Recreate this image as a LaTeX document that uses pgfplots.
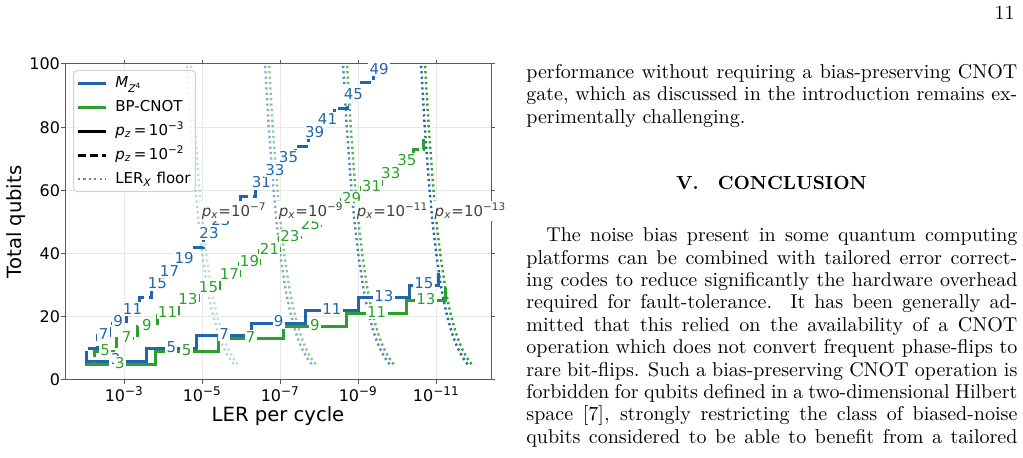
\documentclass[border=0pt]{standalone}
\usepackage{fontspec}
\usepackage{pgfplots}
\usepackage{pgfplotstable}
\pgfplotsset{compat=1.18}
\newfontfamily\dv{DejaVu Sans}
\definecolor{cblue}{HTML}{2166AC}
\definecolor{cgreen}{HTML}{2CA02C}
\definecolor{cgray}{HTML}{7F7F7F}

% staircases (LER per cycle, total qubits)
\pgfplotstableread{
x y
1e-2 6
2.78e-4 10
1.39e-5 14
5.41e-7 18
2.23e-8 22
1.0e-9 26
4.92e-11 30
8.7e-12 34
}\bsolid
\pgfplotstableread{
x y
1e-2 5
1.63e-4 9
3.95e-6 13
8.38e-8 17
1.98e-9 21
5.74e-11 25
5.86e-12 29
}\gsolid
\pgfplotstableread{
x y
1e-2 6
9.20e-3 10
5.01e-3 14
2.33e-3 18
9.05e-4 22
4.20e-4 26
1.98e-4 30
1.02e-4 34
4.73e-5 38
1.80e-5 42
9.60e-6 46
4.73e-6 50
2.33e-6 54
1.02e-6 58
4.45e-7 62
2.07e-7 66
9.05e-8 70
4.20e-8 74
1.91e-8 78
9.05e-9 82
4.20e-9 86
1.95e-9 90
9.05e-10 94
4.12e-10 98
2.07e-10 102
}\bdash
\pgfplotstableread{
x y
1e-2 5
5.88e-3 9
1.63e-3 13
4.73e-4 17
1.45e-4 21
4.20e-5 25
1.29e-5 29
3.73e-6 33
1.11e-6 37
3.41e-7 41
1.05e-7 45
3.12e-8 49
9.32e-9 53
2.70e-9 57
8.28e-10 61
2.54e-10 65
8.53e-11 69
3.84e-11 73
2.07e-11 77
}\gdash

% step labels (code distance)
\pgfplotstableread{
x y lab
1.68e-3 6 3
6.24e-5 10 5
2.75e-6 14 7
1.10e-7 18 9
4.73e-9 22 11
2.22e-10 26 13
2.09e-11 30 15
}\bsolidlab
\pgfplotstableread{
x y lab
3.41e-3 14 7
1.45e-3 18 9
6.16e-4 22 11
1.42e-4 30 15
6.93e-5 34 17
2.91e-5 38 19
6.73e-6 46 23
3.32e-6 50 25
3.04e-7 62 31
1.37e-7 66 33
6.16e-8 70 35
1.31e-8 78 39
6.16e-9 82 41
1.33e-9 90 45
2.91e-10 98 49
}\bdashlab
\pgfplotstableread{
x y lab
1.29e-3 5 3
2.54e-5 9 5
5.74e-7 13 7
1.29e-8 17 9
3.37e-10 21 11
1.85e-11 25 13
}\gsolidlab
\pgfplotstableread{
x y lab
3.09e-3 9 5
8.78e-4 13 7
2.62e-4 17 9
7.80e-5 21 11
2.33e-5 25 13
6.93e-6 29 15
2.03e-6 33 17
6.16e-7 37 19
1.89e-7 41 21
5.71e-8 45 23
1.70e-8 49 25
1.49e-9 57 29
4.59e-10 61 31
1.47e-10 65 33
5.71e-11 69 35
}\gdashlab

% LER_X floors
\pgfplotstableread{
x y
1.579e-6 5
1.823e-6 6
2.065e-6 7
2.308e-6 8
2.794e-6 10
3.280e-6 12
4.009e-6 15
5.224e-6 20
6.440e-6 25
7.653e-6 30
1.008e-5 40
1.252e-5 50
1.494e-5 60
1.980e-5 80
2.466e-5 100
2.588e-5 105
}\fbA
\pgfplotstableread{
x y
1.579e-8 5
1.823e-8 6
2.065e-8 7
2.308e-8 8
2.794e-8 10
3.280e-8 12
4.009e-8 15
5.224e-8 20
6.440e-8 25
7.653e-8 30
1.008e-7 40
1.252e-7 50
1.494e-7 60
1.980e-7 80
2.466e-7 100
2.588e-7 105
}\fbB
\pgfplotstableread{
x y
1.579e-10 5
1.823e-10 6
2.065e-10 7
2.308e-10 8
2.794e-10 10
3.280e-10 12
4.009e-10 15
5.224e-10 20
6.440e-10 25
7.653e-10 30
1.008e-9 40
1.252e-9 50
1.494e-9 60
1.980e-9 80
2.466e-9 100
2.588e-9 105
}\fbC
\pgfplotstableread{
x y
1.579e-12 5
1.823e-12 6
2.065e-12 7
2.308e-12 8
2.794e-12 10
3.280e-12 12
4.009e-12 15
5.224e-12 20
6.440e-12 25
7.653e-12 30
1.008e-11 40
1.252e-11 50
1.494e-11 60
1.980e-11 80
2.466e-11 100
2.588e-11 105
}\fbD
\pgfplotstableread{
x y
1.248e-6 5
1.441e-6 6
1.633e-6 7
1.825e-6 8
2.209e-6 10
2.594e-6 12
3.170e-6 15
4.131e-6 20
5.092e-6 25
6.051e-6 30
7.970e-6 40
9.899e-6 50
1.181e-5 60
1.566e-5 80
1.950e-5 100
2.046e-5 105
}\fgA
\pgfplotstableread{
x y
1.248e-8 5
1.441e-8 6
1.633e-8 7
1.825e-8 8
2.209e-8 10
2.594e-8 12
3.170e-8 15
4.131e-8 20
5.092e-8 25
6.051e-8 30
7.970e-8 40
9.899e-8 50
1.181e-7 60
1.566e-7 80
1.950e-7 100
2.046e-7 105
}\fgB
\pgfplotstableread{
x y
1.248e-10 5
1.441e-10 6
1.633e-10 7
1.825e-10 8
2.209e-10 10
2.594e-10 12
3.170e-10 15
4.131e-10 20
5.092e-10 25
6.051e-10 30
7.970e-10 40
9.899e-10 50
1.181e-9 60
1.566e-9 80
1.950e-9 100
2.046e-9 105
}\fgC
\pgfplotstableread{
x y
1.248e-12 5
1.441e-12 6
1.633e-12 7
1.825e-12 8
2.209e-12 10
2.594e-12 12
3.170e-12 15
4.131e-12 20
5.092e-12 25
6.051e-12 30
7.970e-12 40
9.899e-12 50
1.181e-11 60
1.566e-11 80
1.950e-11 100
2.046e-11 105
}\fgD

\pgfplotsset{
  flr/.style={line width=1.2pt, dash pattern=on 1.1pt off 1.6pt, forget plot},
  stp/.style={line width=1.5pt, const plot, forget plot},
  dsh/.style={dash pattern=on 5.5pt off 2.4pt},
  steplab/.style={forget plot, only marks, mark=none,
    nodes near coords, point meta=explicit symbolic,
    nodes near coords style={anchor=center, yshift=0.8pt, fill=white, inner sep=0.7pt,
      font=\dv\fontsize{7.5}{8}\selectfont, text=#1}},
}

\begin{document}
\begin{tikzpicture}
\useasboundingbox (0pt,0pt) rectangle (511.5pt,229pt);
\begin{axis}[
  at={(32.5pt,39pt)}, anchor=south west,
  scale only axis, width=213pt, height=158pt,
  clip mode=individual,
  xmode=log, x dir=reverse,
  xmin=3.96e-13, xmax=3.32e-2, ymin=0, ymax=100,
  xtick={1e-3,1e-5,1e-7,1e-9,1e-11},
  xticklabels={10\textsuperscript{−3},10\textsuperscript{−5},10\textsuperscript{−7},10\textsuperscript{−9},10\textsuperscript{−11}},
  ytick={0,20,40,60,80,100},
  yticklabels={0,20,40,60,80,100},
  xminorticks=false, yminorticks=false,
  grid=major, major grid style={color=black!9, line width=0.5pt},
  axis line style={color=black!65, line width=0.5pt},
  tick style={color=black!65, line width=0.5pt},
  tick align=outside, major tick length=2pt,
  ticklabel style={font=\dv\fontsize{8}{9}\selectfont, text=black},
  xticklabel style={yshift=2pt},
  yticklabel style={xshift=3pt},
  xlabel={LER per cycle}, ylabel={Total qubits},
  label style={font=\dv\fontsize{9.8}{11}\selectfont},
  xlabel style={at={(axis description cs:0.5,-0.13)}, anchor=base},
  ylabel style={at={(axis description cs:-0.114,0.5)}, anchor=center},
  legend style={at={(0.019,0.981)}, anchor=north west,
    draw=black!18, line width=0.5pt, rounded corners=2pt,
    fill=white, fill opacity=0.8, text opacity=1,
    font=\dv\fontsize{7.5}{9}\selectfont,
    inner xsep=1.5pt, inner ysep=1.5pt, row sep=2.4pt, column sep=3pt,
    nodes={inner sep=0.9pt, text height=6.2pt, text depth=1.6pt}},
  legend cell align=left,
  legend image code/.code={\draw[#1] (0pt,0pt) -- (14pt,0pt);},
]
% legend entries
\addlegendimage{cblue, line width=1.5pt}
\addlegendentry{{\itshape M}\textsubscript{{\itshape Z}\textsuperscript{4}}}
\addlegendimage{cgreen, line width=1.5pt}
\addlegendentry{BP-CNOT}
\addlegendimage{black, line width=1.5pt}
\addlegendentry{{\itshape p}\textsubscript{\itshape z}\,=\,10\textsuperscript{−3}}
\addlegendimage{black, line width=1.5pt, dash pattern=on 4pt off 2pt}
\addlegendentry{{\itshape p}\textsubscript{\itshape z}\,=\,10\textsuperscript{−2}}
\addlegendimage{cgray, line width=1.2pt, dash pattern=on 1.1pt off 1.6pt}
\addlegendentry{LER\textsubscript{\itshape X} floor}

% LER_X floors
\addplot[flr, cblue, opacity=0.3] table {\fbA};
\addplot[flr, cgreen, opacity=0.3] table {\fgA};
\addplot[flr, cblue, opacity=0.55] table {\fbB};
\addplot[flr, cgreen, opacity=0.55] table {\fgB};
\addplot[flr, cblue, opacity=0.8] table {\fbC};
\addplot[flr, cgreen, opacity=0.8] table {\fgC};
\addplot[flr, cblue] table {\fbD};
\addplot[flr, cgreen] table {\fgD};

% staircases
\addplot[stp, cblue] table {\bsolid};
\addplot[stp, cblue, dsh] table {\bdash};
\addplot[stp, cgreen] table {\gsolid};
\addplot[stp, cgreen, dsh] table {\gdash};

% step labels
\addplot[steplab=cblue] table[meta=lab] {\bsolidlab};
\addplot[steplab=cblue] table[meta=lab] {\bdashlab};
\addplot[steplab=cgreen] table[meta=lab] {\gsolidlab};
\addplot[steplab=cgreen] table[meta=lab] {\gdashlab};

% p_x labels
\node[anchor=west, fill=white, inner sep=0.7pt, text=black!75, font=\dv\fontsize{7.5}{8}\selectfont]
  at (axis cs:1.15e-5,53.5) {{\itshape p}\textsubscript{\itshape x}=10\textsuperscript{−7}};
\node[anchor=west, fill=white, inner sep=0.7pt, text=black!75, font=\dv\fontsize{7.5}{8}\selectfont]
  at (axis cs:1.22e-7,53.5) {{\itshape p}\textsubscript{\itshape x}=10\textsuperscript{−9}};
\node[anchor=west, fill=white, inner sep=0.7pt, text=black!75, font=\dv\fontsize{7.5}{8}\selectfont]
  at (axis cs:1.22e-9,53.5) {{\itshape p}\textsubscript{\itshape x}=10\textsuperscript{−11}};
\node[anchor=west, fill=white, inner sep=0.7pt, text=black!75, font=\dv\fontsize{7.5}{8}\selectfont]
  at (axis cs:1.22e-11,53.5) {{\itshape p}\textsubscript{\itshape x}=10\textsuperscript{−13}};
\end{axis}

% page text
\begin{scope}[every node/.style={anchor=base west, inner sep=0pt, font=\fontsize{10}{12}\selectfont}]
\node[anchor=base east] at (507.5pt,219pt) {11};
\node at (263pt,189.8pt) {\makebox[245.5pt][s]{performance without requiring a bias-preserving CNOT}};
\node at (263pt,178.6pt) {\makebox[245.5pt][s]{gate, which as discussed in the introduction remains ex-}};
\node at (263pt,167.4pt) {perimentally challenging.};
\node[anchor=base, font=\fontsize{9.5}{11}\selectfont] at (385.75pt,134pt) {\bfseries V.\quad CONCLUSION};
\node at (273pt,108.1pt) {\makebox[235.5pt][s]{The noise bias present in some quantum computing}};
\node at (263pt,96.9pt) {\makebox[245.5pt][s]{platforms can be combined with tailored error correct-}};
\node at (263pt,85.7pt) {\makebox[245.5pt][s]{ing codes to reduce significantly the hardware overhead}};
\node at (263pt,74.5pt) {\makebox[245.5pt][s]{required for fault-tolerance.\ \ It has been generally ad-}};
\node at (263pt,63.3pt) {\makebox[245.5pt][s]{mitted that this relied on the availability of a CNOT}};
\node at (263pt,52.1pt) {\makebox[245.5pt][s]{operation which does not convert frequent phase-flips to}};
\node at (263pt,40.9pt) {\makebox[245.5pt][s]{rare bit-flips. Such a bias-preserving CNOT operation is}};
\node at (263pt,29.7pt) {\makebox[245.5pt][s]{forbidden for qubits defined in a two-dimensional Hilbert}};
\node at (263pt,18.5pt) {\makebox[245.5pt][s]{space [7], strongly restricting the class of biased-noise}};
\node at (263pt,7.3pt) {\makebox[245.5pt][s]{qubits considered to be able to benefit from a tailored}};
\end{scope}
\end{tikzpicture}
\end{document}
